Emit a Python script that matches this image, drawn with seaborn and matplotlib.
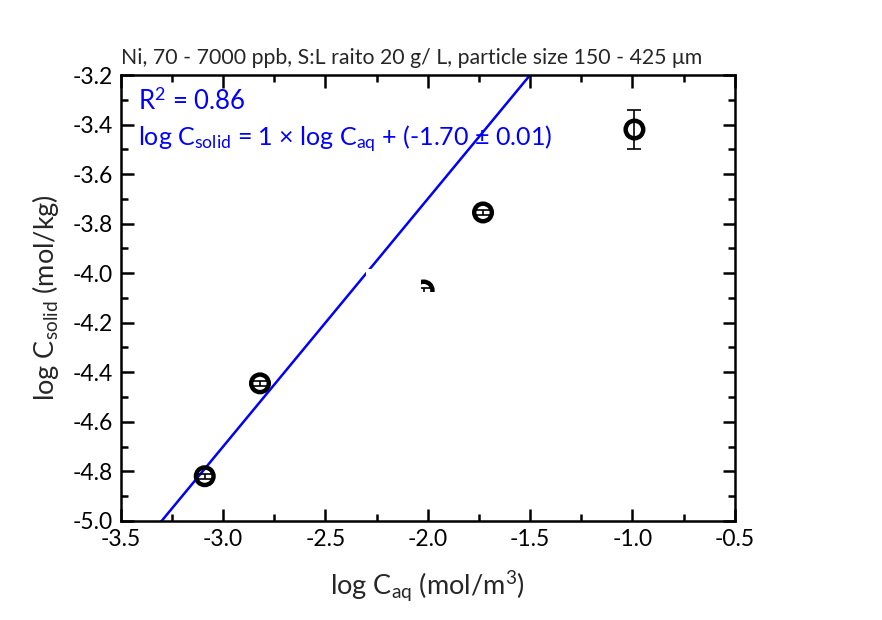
import numpy as np
import pandas as pd
import matplotlib
matplotlib.use("Agg")
import matplotlib.pyplot as plt
import seaborn as sns
from matplotlib.ticker import MultipleLocator
from matplotlib.patches import Polygon

# data
log_caq = [-3.09, -2.82, -2.02, -1.73, -0.99]
log_csolid = [-4.82, -4.445, -4.07, -3.755, -3.42]
err = [0.01, 0.01, 0.01, 0.01, 0.077]
slope = 1.0
intercept = -1.70
x_ticks = [-3.5, -3.0, -2.5, -2.0, -1.5, -1.0, -0.5]
y_ticks = [-5.0, -4.8, -4.6, -4.4, -4.2, -4.0, -3.8, -3.6, -3.4, -3.2]

sns.set_style("ticks")
plt.rcParams['font.family'] = ['Lato', 'DejaVu Sans']
plt.rcParams['mathtext.fontset'] = 'custom'
plt.rcParams['mathtext.rm'] = 'Lato'
plt.rcParams['mathtext.it'] = 'Lato:italic'
plt.rcParams['mathtext.bf'] = 'Lato:bold'

fig = plt.figure(figsize=(8.82, 6.2), dpi=100)
ax = fig.add_axes([0.137, 0.160, 0.696, 0.719])

df = pd.DataFrame({"x": log_caq, "y": log_csolid})

# fit line across the axis range
xl = np.array([x_ticks[0], x_ticks[-1]])
fit = pd.DataFrame({"x": xl, "y": slope * xl + intercept})
sns.lineplot(data=fit, x="x", y="y", ax=ax, color=(0, 0, 1), lw=1.8, zorder=2)

ax.errorbar(log_caq, log_csolid, yerr=err, fmt='none', ecolor='black',
            elinewidth=1.2, capsize=5, capthick=1.2, zorder=3)
sns.scatterplot(data=df, x="x", y="y", ax=ax, s=160, facecolor='none',
                edgecolor='black', linewidth=3.2, zorder=4)

# white artifact masking part of the third point
mask = Polygon([(-2.30, -3.985), (-2.035, -3.985), (-2.035, -4.078),
                (-1.95, -4.078), (-1.95, -4.5), (-2.30, -4.5)],
               closed=True, facecolor='white', edgecolor='none', zorder=5)
ax.add_patch(mask)

ax.set_xlim(x_ticks[0], x_ticks[-1])
ax.set_ylim(y_ticks[0], y_ticks[-1])
ax.set_xticks(x_ticks)
ax.set_yticks(y_ticks)
ax.set_xticklabels([f"{v:.1f}" for v in x_ticks])
ax.set_yticklabels([f"{v:.1f}" for v in y_ticks])
ax.xaxis.set_minor_locator(MultipleLocator(0.25))
ax.yaxis.set_minor_locator(MultipleLocator(0.1))
ax.tick_params(which='both', direction='in', top=True, right=True, width=1.8, colors='black')
ax.tick_params(which='major', length=9, labelsize=16.5, pad=6)
ax.tick_params(which='minor', length=5)
for s in ax.spines.values():
    s.set_visible(True)
    s.set_linewidth(1.8)
    s.set_color('black')

ax.set_xlabel(r"log C$_{\mathrm{aq}}$ (mol/m$^{3}$)", fontsize=19.5, labelpad=14)
ax.set_ylabel(r"log C$_{\mathrm{solid}}$ (mol/kg)", fontsize=19.5, labelpad=8)

ax.set_title("Ni, 70 - 7000 ppb, S:L raito 20 g/ L, particle size 150 - 425 \u03bcm",
             fontsize=15.3, loc='left', pad=8)

ax.text(0.028, 0.97, r"R$^{2}$ = 0.86", transform=ax.transAxes, color=(0, 0, 1),
        fontsize=18.5, va='top', ha='left')
ax.text(0.028, 0.89,
        r"log C$_{\mathrm{solid}}$ = 1 $\times$ log C$_{\mathrm{aq}}$ + (-1.70 $\pm$ 0.01)",
        transform=ax.transAxes, color=(0, 0, 1), fontsize=18, va='top', ha='left')

fig.savefig("out.png", dpi=100)
